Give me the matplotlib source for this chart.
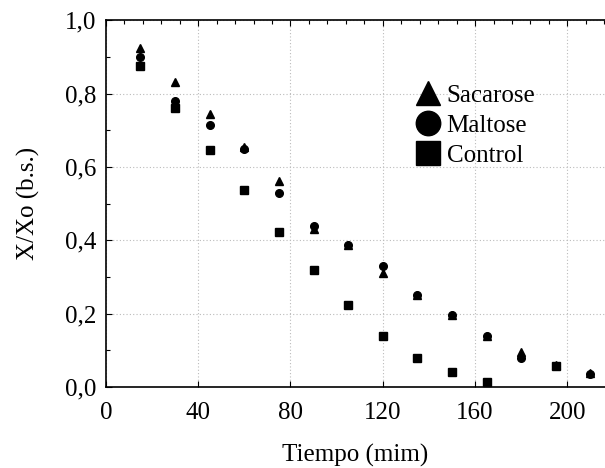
import matplotlib
matplotlib.use("Agg")
import matplotlib.pyplot as plt
from matplotlib.ticker import FuncFormatter, MultipleLocator

# Tiempo (min) and X/Xo readings per treatment
t_sacarose = [15, 30, 45, 60, 75, 90, 105, 120, 135, 150, 165, 180, 195, 210]
sacarose = [0.924, 0.830, 0.744, 0.655, 0.561, 0.430, 0.387, 0.310, 0.250, 0.196, 0.139, 0.095, 0.060, 0.037]

t_maltose = [15, 30, 45, 60, 75, 90, 105, 120, 135, 150, 165, 180, 195, 210]
maltose = [0.900, 0.780, 0.714, 0.649, 0.529, 0.440, 0.387, 0.330, 0.250, 0.196, 0.139, 0.080, 0.058, 0.035]

t_control = [15, 30, 45, 60, 75, 90, 105, 120, 135, 150, 165, 195]
control = [0.875, 0.760, 0.646, 0.537, 0.422, 0.319, 0.224, 0.139, 0.079, 0.041, 0.014, 0.058]

plt.rcParams["font.family"] = ["Liberation Serif", "DejaVu Serif"]

fig = plt.figure(figsize=(6.05, 4.68), dpi=100)
ax = fig.add_axes([0.175, 0.173, 0.825, 0.784])

ms = 5.5
ax.plot(t_sacarose, sacarose, "^", color="black", ms=ms, label="Sacarose", zorder=3)
ax.plot(t_maltose, maltose, "o", color="black", ms=ms, label="Maltose", zorder=3)
ax.plot(t_control, control, "s", color="black", ms=ms, label="Control", zorder=3)

ax.set_xlim(0, 216.3)
ax.set_ylim(0, 1.0)
ax.xaxis.set_major_locator(MultipleLocator(40))
ax.xaxis.set_minor_locator(MultipleLocator(8))
ax.yaxis.set_major_locator(MultipleLocator(0.2))
ax.yaxis.set_minor_locator(MultipleLocator(0.1))
ax.yaxis.set_major_formatter(FuncFormatter(lambda v, p: f"{v:.1f}".replace(".", ",")))

ax.tick_params(which="both", direction="in", top=True, labelsize=18, width=0.8)
ax.tick_params(which="major", length=4)
ax.tick_params(which="minor", length=3, bottom=False)
ax.tick_params(axis="x", pad=11)
ax.tick_params(axis="y", pad=7)
ax.spines["right"].set_visible(False)
for s in ("left", "bottom", "top"):
    ax.spines[s].set_linewidth(1.2)

ax.grid(True, which="major", linestyle=(0, (1, 2)), color="#bbbbbb", linewidth=0.8)

ax.set_xlabel("Tiempo (mim)", fontsize=18, labelpad=14)
ax.set_ylabel("X/Xo (b.s.)", fontsize=18, labelpad=18)

leg = ax.legend(loc="upper left", bbox_to_anchor=(0.6, 0.858), frameon=False,
                fontsize=18, markerscale=3.2, handlelength=0.8, handletextpad=0.35,
                labelspacing=0.3, borderpad=0)

fig.savefig("out.png", dpi=100)
